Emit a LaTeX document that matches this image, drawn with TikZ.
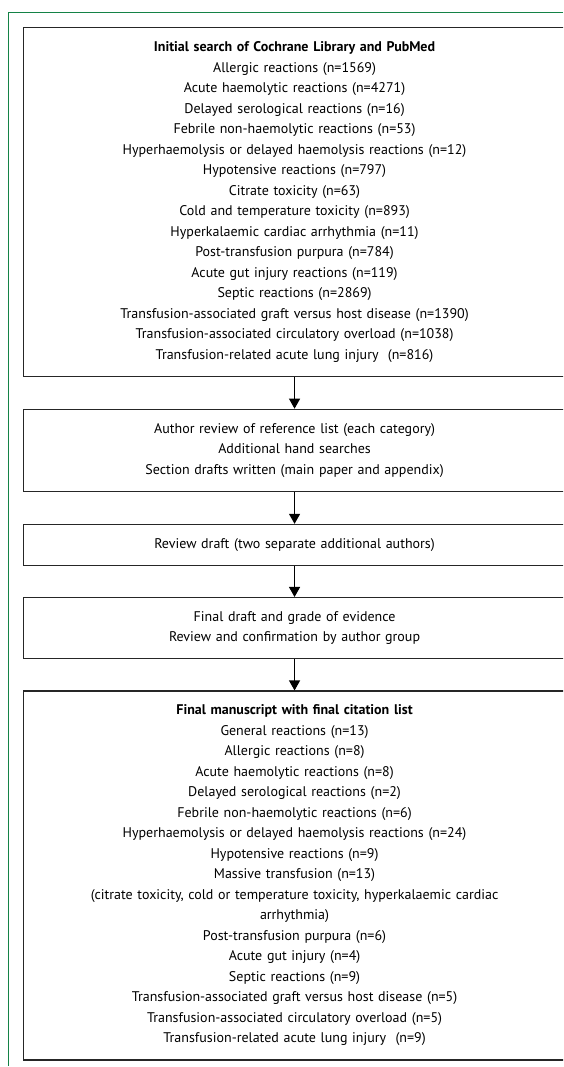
\documentclass[tikz,border=0pt]{standalone}
\usepackage{fontspec}
\setmainfont{PT Sans}
\usetikzlibrary{positioning,arrows.meta}
\definecolor{lancetgreen}{RGB}{20,130,70}
\tikzset{
  stage/.style={draw=black!85, line width=1.1pt, text width=542pt, inner xsep=0pt,
    inner ysep=14pt, align=center, font=\fontsize{14}{20.5}\selectfont},
  flow/.style={line width=1.1pt, -{Triangle[width=11pt,length=10pt]}}
}
\begin{document}
\begin{tikzpicture}[x=1pt,y=1pt]
  \useasboundingbox (0,0) rectangle (563,-1067);
  \clip (0,0) rectangle (563,-1067);
  \draw[lancetgreen, line width=1pt] (563,-12.5) -- (8,-12.5) -- (8,-1066);
  \node (search) [stage, anchor=north west] at (23,-27) {\textbf{Initial search of Cochrane Library and PubMed}\\
    Allergic reactions (n=1569)\\
    Acute haemolytic reactions (n=4271)\\
    Delayed serological reactions (n=16)\\
    Febrile non-haemolytic reactions (n=53)\\
    Hyperhaemolysis or delayed haemolysis reactions (n=12)\\
    Hypotensive reactions (n=797)\\
    Citrate toxicity (n=63)\\
    Cold and temperature toxicity (n=893)\\
    Hyperkalaemic cardiac arrhythmia (n=11)\\
    Post-transfusion purpura (n=784)\\
    Acute gut injury reactions (n=119)\\
    Septic reactions (n=2869)\\
    Transfusion-associated graft versus host disease (n=1390)\\
    Transfusion-associated circulatory overload (n=1038)\\
    Transfusion-related acute lung injury\ \ (n=816)};
  \node (authors) [stage, below=32pt of search] {Author review of reference list (each category)\\
    Additional hand searches\\
    Section drafts written (main paper and appendix)};
  \node (draft) [stage, below=32pt of authors] {Review draft (two separate additional authors)};
  \node (grade) [stage, below=31pt of draft] {Final draft and grade of evidence\\
    Review and confirmation by author group};
  \node (final) [stage, below=31pt of grade] {\textbf{Final manuscript with final citation list}\\
    General reactions (n=13)\\
    Allergic reactions (n=8)\\
    Acute haemolytic reactions (n=8)\\
    Delayed serological reactions (n=2)\\
    Febrile non-haemolytic reactions (n=6)\\
    Hyperhaemolysis or delayed haemolysis reactions (n=24)\\
    Hypotensive reactions (n=9)\\
    Massive transfusion (n=13)\\
    (citrate toxicity, cold or temperature toxicity, hyperkalaemic cardiac\\
    arrhythmia)\\
    Post-transfusion purpura (n=6)\\
    Acute gut injury (n=4)\\
    Septic reactions (n=9)\\
    Transfusion-associated graft versus host disease (n=5)\\
    Transfusion-associated circulatory overload (n=5)\\
    Transfusion-related acute lung injury\ \ (n=9)};
  \path[flow] (search) edge (authors)
              (authors) edge (draft)
              (draft) edge (grade)
              (grade) edge (final);
\end{tikzpicture}
\end{document}
